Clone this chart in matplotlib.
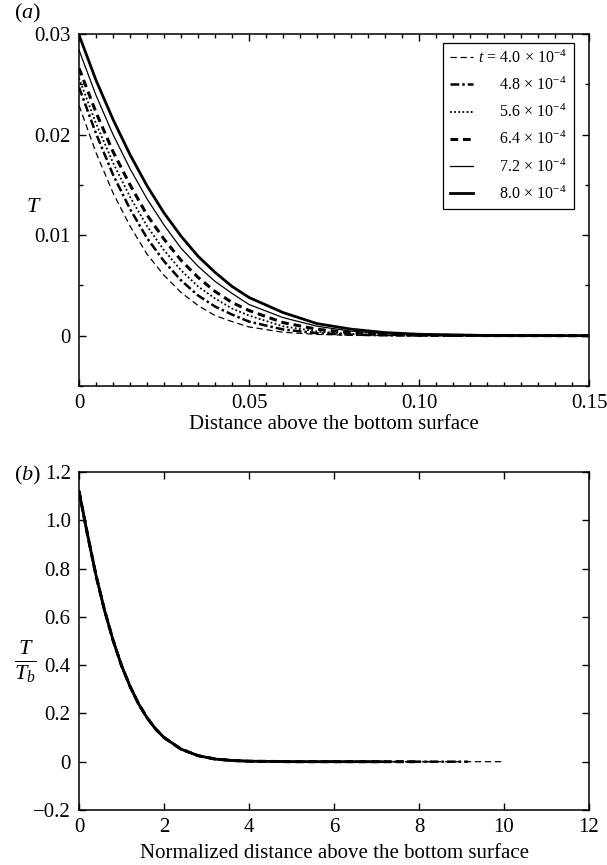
import matplotlib
matplotlib.use('Agg')
import matplotlib.pyplot as plt
from matplotlib.ticker import FixedLocator, MultipleLocator

plt.rcParams['font.family'] = ['Liberation Serif', 'DejaVu Serif']
plt.rcParams['mathtext.fontset'] = 'custom'
plt.rcParams['mathtext.rm'] = 'Liberation Serif'
plt.rcParams['mathtext.it'] = 'Liberation Serif:italic'
plt.rcParams['axes.unicode_minus'] = True

# ---- data ----
times = ['4.0', '4.8', '5.6', '6.4', '7.2', '8.0']

# (a) temperature against distance above the bottom surface
dist = [0, 0.005, 0.01, 0.015, 0.02, 0.025, 0.03, 0.035, 0.04, 0.045,
        0.05, 0.06, 0.07, 0.08, 0.09, 0.10, 0.12, 0.15]
T_40 = [0.0229, 0.0182, 0.0142, 0.0109, 0.0081, 0.0060, 0.0043, 0.0030, 0.0020, 0.0014,
        0.00087, 0.00034, 0.00013, 0.00004, 0.00001, 0, 0, 0]
T_48 = [0.0247, 0.0201, 0.0160, 0.0126, 0.0097, 0.0074, 0.0055, 0.0040, 0.0029, 0.0021,
        0.0014, 0.00062, 0.00025, 0.0001, 0.00004, 0.00001, 0, 0]
T_56 = [0.0256, 0.0211, 0.0172, 0.0138, 0.0109, 0.0085, 0.0065, 0.0049, 0.0037, 0.0027,
        0.0020, 0.00093, 0.00042, 0.00017, 0.00007, 0.00003, 0, 0]
T_64 = [0.0266, 0.0222, 0.0183, 0.0150, 0.0120, 0.0096, 0.0075, 0.0058, 0.0044, 0.0033,
        0.0025, 0.0013, 0.00064, 0.00029, 0.00013, 0.00005, 0.00001, 0]
T_72 = [0.0284, 0.0239, 0.0200, 0.0166, 0.0136, 0.0110, 0.0087, 0.0069, 0.0054, 0.0042,
        0.0031, 0.0018, 0.00094, 0.00045, 0.0002, 0.00009, 0.00001, 0]
T_80 = [0.0299, 0.0254, 0.0215, 0.0180, 0.0149, 0.0122, 0.0099, 0.0079, 0.0063, 0.0049,
        0.0038, 0.0023, 0.0012, 0.00065, 0.00031, 0.00014, 0.00002, 0]

# (b) collapsed profile against normalized distance
norm_dist = [0, 0.2, 0.4, 0.6, 0.8, 1.0, 1.2, 1.4, 1.6, 1.8, 2.0, 2.4, 2.8, 3.2, 3.6, 4.0, 5.0]
T_ratio = [1.12, 0.94, 0.771, 0.627, 0.503, 0.398, 0.312, 0.240, 0.182, 0.136, 0.100,
           0.052, 0.025, 0.011, 0.005, 0.002, 0.0001]
norm_end = [10.0, 9.15, 8.45, 7.9, 7.45, 7.07]

xt_a = [0, 0.05, 0.10, 0.15]
xt_a_lab = ['0', '0.05', '0.10', '0.15']
yt_a = [0, 0.01, 0.02, 0.03]
yt_a_lab = ['0', '0.01', '0.02', '0.03']
xt_b = [0, 2, 4, 6, 8, 10, 12]
xt_b_lab = ['0', '2', '4', '6', '8', '10', '12']
yt_b = [-0.2, 0, 0.2, 0.4, 0.6, 0.8, 1.0, 1.2]
yt_b_lab = ['\u22120.2', '0', '0.2', '0.4', '0.6', '0.8', '1.0', '1.2']

curves_a = [T_40, T_48, T_56, T_64, T_72, T_80]

# line styles: thin dashed, dash-dot, dotted, thick dashed, thin solid, thick solid
styles = [
    dict(lw=0.9, dashes=(5, 3)),
    dict(lw=1.8, dashes=(3.5, 1.2, 1, 1.2)),
    dict(lw=1.3, dashes=(1, 1.3)),
    dict(lw=2.2, dashes=(2.5, 1.6)),
    dict(lw=0.9, ls='-'),
    dict(lw=2.0, ls='-'),
]

labels = [r'$t\,=\,4.0\,\times\,10^{-4}$'] + \
         [r'$\quad\;\;\;' + s + r'\,\times\,10^{-4}$' for s in times[1:]]

fig = plt.figure(figsize=(6.07, 8.65), dpi=100)
ax1 = fig.add_axes([0.1302, 0.5538, 0.8402, 0.4069])
ax2 = fig.add_axes([0.1302, 0.0636, 0.8402, 0.3908])

for y, st, lab in zip(curves_a, styles, labels):
    ax1.plot(dist, y, color='black', label=lab, **st)

for end, st in zip(norm_end, styles):
    xs = [v for v in norm_dist if v < end] + [end]
    ys = T_ratio[:len(xs) - 1] + [0.0]
    ax2.plot(xs, ys, color='black', **st)

ax1.set_xlim(0, 0.15)
ax1.set_ylim(-0.005, 0.03)
ax1.xaxis.set_major_locator(FixedLocator(xt_a))
ax1.set_xticklabels(xt_a_lab)
ax1.yaxis.set_major_locator(FixedLocator(yt_a))
ax1.set_yticklabels(yt_a_lab)
ax1.xaxis.set_minor_locator(MultipleLocator(0.005))
ax1.yaxis.set_minor_locator(MultipleLocator(0.005))

ax2.set_xlim(0, 12)
ax2.set_ylim(-0.2, 1.2)
ax2.xaxis.set_major_locator(FixedLocator(xt_b))
ax2.set_xticklabels(xt_b_lab)
ax2.yaxis.set_major_locator(FixedLocator(yt_b))
ax2.set_yticklabels(yt_b_lab)

for ax in (ax1, ax2):
    for sp in ax.spines.values():
        sp.set_linewidth(1.1)
    ax.tick_params(which='both', direction='in', top=True, right=True,
                   labelsize=15, width=1.0)
    ax.tick_params(which='major', length=5, pad=6)
    ax.tick_params(which='minor', length=3)

ax1.set_xlabel('Distance above the bottom surface', fontsize=15, labelpad=1)
ax2.set_xlabel('Normalized distance above the bottom surface', fontsize=15, labelpad=5)

ax1.text(-0.088, 0.506, r'$T$', transform=ax1.transAxes, fontsize=16,
         ha='center', va='center')
ax2.text(-0.105, 0.44, r'$\frac{T}{T_b}$', transform=ax2.transAxes, fontsize=23,
         ha='center', va='center')

fig.text(0.046, 0.984, r'($a$)', fontsize=16, ha='center', va='center')
fig.text(0.046, 0.450, r'($b$)', fontsize=16, ha='center', va='center')

leg = ax1.legend(loc='upper right', bbox_to_anchor=(0.9706, 0.9753), borderaxespad=0,
                 fontsize=11.5, frameon=True, fancybox=False, edgecolor='black',
                 framealpha=1, handlelength=1.45, handletextpad=0.3,
                 labelspacing=0.62, borderpad=0.42)
leg.get_frame().set_linewidth(0.9)

fig.savefig('out.png', dpi=100)
